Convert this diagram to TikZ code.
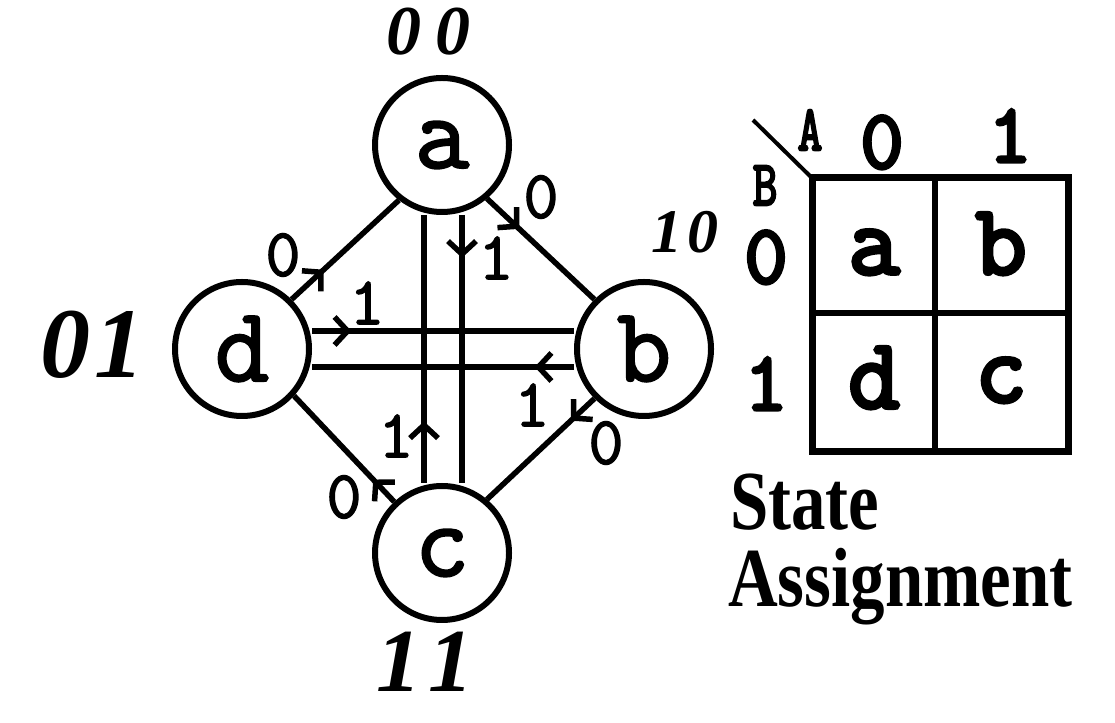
\documentclass[tikz,border=0pt]{standalone}
\usepackage{fontspec}
\setmainfont{Liberation Serif}
\newfontfamily\tipofont[FakeBold=2]{Latin Modern Mono}
\newfontfamily\tipogrueso[FakeBold=4]{Latin Modern Mono}
\usetikzlibrary{arrows.meta,decorations.markings}
\tikzset{
  estado/.style={
    circle,
    draw,
    line width=6pt,
    minimum size=134pt,
    inner sep=0pt,
    font=\tipofont\fontsize{106}{106}\selectfont
  },
  trans/.style={
    line width=5.5pt
  },
  flecha/.style={
    postaction={decorate,decoration={markings,
      mark=at position #1 with {\arrow{Straight Barb[length=13pt,width=28pt]}}}}
  },
  etiq/.style={
    inner sep=0pt,
    font=\tipofont\fontsize{68}{68}\selectfont
  },
  mano/.style={
    inner sep=0pt,
    font=\bfseries\itshape\fontsize{#1}{#1}\selectfont
  },
  celda/.style={
    anchor=base,
    inner sep=0pt,
    font=\tipogrueso\fontsize{100}{100}\selectfont
  },
  cabeza/.style={
    anchor=base,
    inner sep=0pt,
    font=\tipogrueso\fontsize{84}{84}\selectfont
  },
  titulo/.style={
    anchor=base west,
    inner sep=0pt,
    xscale=.82,
    font=\bfseries\fontsize{84}{84}\selectfont
  }
}
\begin{document}
\begin{tikzpicture}[x=1pt,y=1pt]
\useasboundingbox (0,0) rectangle (1115,722);
% states
\node[estado] (a) at (442,577) {a};
\node[estado] (b) at (644,373) {b};
\node[estado] (c) at (442,169) {c};
\node[estado] (d) at (242,373) {d};
% transitions
\draw[trans,flecha=.3] (d.45) -- (a.232);
\draw[trans,flecha=.3] (a.-50) -- (b.135);
\draw[trans,flecha=.22] (b.225) -- (c.50);
\draw[trans,flecha=.21] (c.133) -- (d.-42);
\draw[trans,flecha=.15] ([yshift=18pt]d.east) -- ([yshift=18pt]b.west);
\draw[trans,flecha=.15] ([yshift=-18pt]b.west) -- ([yshift=-18pt]d.east);
\draw[trans,flecha=.16] ([xshift=20pt]a.south) -- ([xshift=20pt]c.north);
\draw[trans,flecha=.23] ([xshift=-18pt]c.north) -- ([xshift=-18pt]a.south);
% inputs
\node[etiq] (i1) at (283,467) {0};
\node[etiq] (i2) at (541,525) {0};
\node[etiq] (i3) at (606,279) {0};
\node[etiq] (i4) at (344,225) {0};
\node[etiq] (i5) at (367,419) {1};
\node[etiq] (i6) at (532,317) {1};
\node[etiq] (i7) at (496,464) {1};
\node[etiq] (i8) at (396,286) {1};
% handwritten codes
\node[mano=70] (ca) at (428,690) {0\hspace{14pt}0};
\node[mano=62] (cb) at (685,490) {1\hspace{6pt}0};
\node[mano=100] (cd) at (92,377) {0\hspace{4pt}1};
\node[mano=90] (cc) at (425,60) {1\hspace{8pt}1};
% state assignment map
\draw[line width=7pt] (812,270) rectangle (1068,544);
\draw[line width=6pt] (935,270) -- (935,544);
\draw[line width=6pt] (812,409) -- (1068,409);
\draw[line width=4pt] (753,602) -- (812,544);
\node[cabeza,xscale=.75,font=\tipogrueso\fontsize{64}{64}\selectfont] (kA) at (810,572) {A};
\node[cabeza,xscale=.75,font=\tipogrueso\fontsize{64}{64}\selectfont] (kB) at (765,517) {B};
\node[cabeza] (k0) at (882,554) {0};
\node[cabeza] (k1) at (1010,560) {1};
\node[cabeza] (r0) at (766,439) {0};
\node[cabeza] (r1) at (766,312) {1};
\node[celda] (ka) at (874,448) {a};
\node[celda] (kb) at (1001,448) {b};
\node[celda] (kd) at (874,314) {d};
\node[celda] (kc) at (1001,320) {c};
\node[titulo] (t1) at (730,192) {State};
\node[titulo] (t2) at (728,115) {Assignment};
\end{tikzpicture}
\end{document}
